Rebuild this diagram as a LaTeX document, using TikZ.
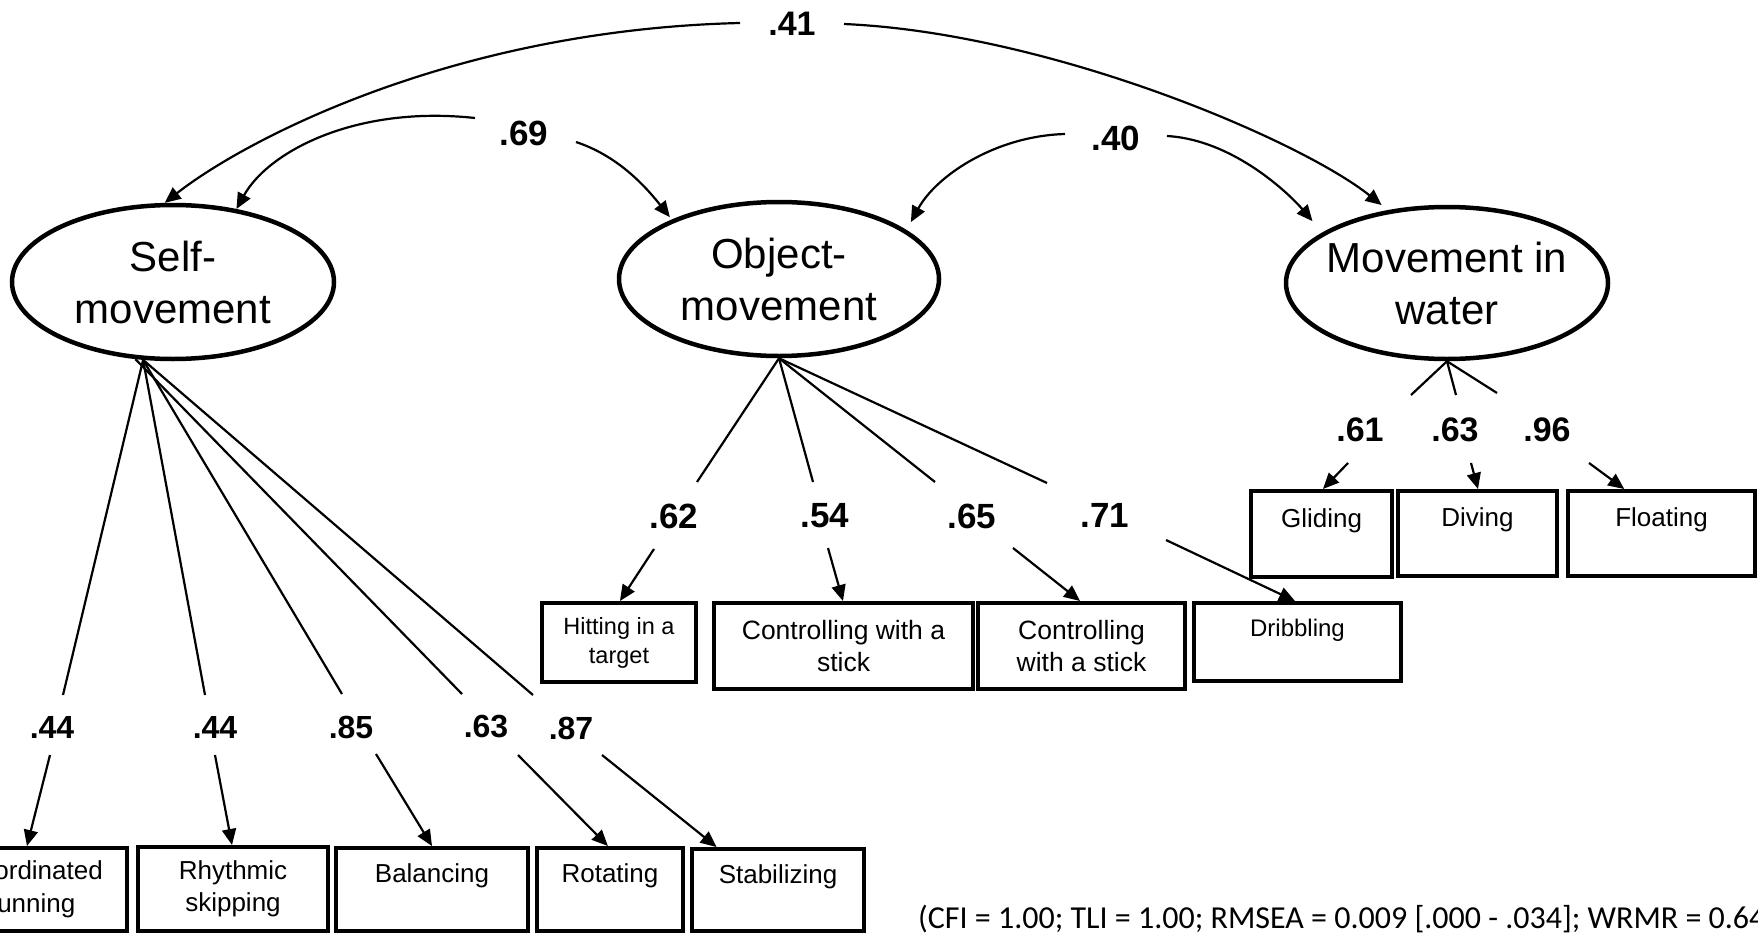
\documentclass[tikz,border=0pt]{standalone}
\usepackage{fontspec}
\setmainfont{Liberation Sans}
\newfontfamily\calibri{Carlito}
\usetikzlibrary{arrows.meta,shapes.geometric,calc}
\begin{document}
\begin{tikzpicture}[x=1pt,y=-1pt,
  latent/.style={ellipse,draw,line width=4.5pt,minimum width=322pt,minimum height=154pt,
    inner xsep=-40pt,inner ysep=0pt,align=center,font=\fontsize{42}{52}\selectfont},
  ind/.style={draw,line width=4pt,inner sep=0pt,align=center,font=\fontsize{26}{32.5}\selectfont},
  coefS/.style={inner sep=0pt,font=\bfseries\fontsize{32}{38}\selectfont},
  coef/.style={inner sep=0pt,font=\bfseries\fontsize{34}{40}\selectfont},
  coefL/.style={inner sep=0pt,font=\bfseries\fontsize{35}{41}\selectfont},
  ldline/.style={line width=2.2pt},
  arr/.style={line width=2.2pt,-{Triangle[length=16pt,width=14pt]}},
]
\useasboundingbox (0,0) rectangle (1758,934);
\clip (0,0) rectangle (1758,934);

% latent factors
\node[latent] (self) at (173,282) {Self-\\movement};
\node[latent,minimum width=320pt] (obj) at (779,279) {Object-\\movement};
\node[latent,minimum width=322pt,minimum height=152pt] (water) at (1447,283) {Movement in\\water};

% indicator boxes
\node[ind,minimum width=190pt,minimum height=83pt] (bcr) at (32,889.5) {Coordinated\\running};
\node[ind,minimum width=190pt,minimum height=84pt] (brs) at (233,889) {Rhythmic\\skipping};
\node[ind,minimum width=192pt,minimum height=83pt] (bbal) at (432,889.5) {Balancing\\\mbox{}};
\node[ind,minimum width=146pt,minimum height=83pt] (brot) at (610,889.5) {Rotating\\\mbox{}};
\node[ind,minimum width=172pt,minimum height=82pt] (bstab) at (778,890) {Stabilizing\\\mbox{}};

\node[ind,minimum width=154pt,minimum height=79pt,font=\fontsize{23.5}{29}\selectfont] (bhit) at (619,642.5) {Hitting in a\\target};
\node[ind,minimum width=259pt,minimum height=86pt,font=\fontsize{26.5}{32}\selectfont] (bcs1) at (843.5,646) {Controlling with a\\stick};
\node[ind,minimum width=207pt,minimum height=86pt,font=\fontsize{26.5}{32}\selectfont] (bcs2) at (1081.5,646) {Controlling\\with a stick};
\node[ind,minimum width=207pt,minimum height=78pt,font=\fontsize{24}{29}\selectfont] (bdrib) at (1297.5,642) {Dribbling\\\mbox{}};

\node[ind,minimum width=141pt,minimum height=86pt] (bglid) at (1321.5,534) {Gliding\\\mbox{}};
\node[ind,minimum width=159pt,minimum height=85pt] (bdiv) at (1477.5,533.5) {Diving\\\mbox{}};
\node[ind,minimum width=187pt,minimum height=85pt] (bfloat) at (1661.5,533.5) {Floating\\\mbox{}};

% coefficient labels
\node[coefS] (l44a) at (52,727) {.44};
\node[coefS] (l44b) at (215,727) {.44};
\node[coefS] (l85) at (351,727) {.85};
\node[coefS] (l63s) at (486,726) {.63};
\node[coefS] (l87) at (571,728) {.87};
\node[coefL] (l62) at (674,516) {.62};
\node[coefL] (l54) at (825,516) {.54};
\node[coefL] (l65) at (972,516) {.65};
\node[coefL] (l71) at (1105,515) {.71};
\node[coef] (l61) at (1360,430) {.61};
\node[coef] (l63w) at (1455,430) {.63};
\node[coef] (l96) at (1547,430) {.96};
\node[coef] (l41) at (792,24) {.41};
\node[coefL] (l69) at (524,133) {.69};
\node[coefL] (l40) at (1116,138) {.40};

% free ends of the loading lines and arrows
\coordinate (e44a) at (63,695);   \coordinate (s44a) at (50,755);
\coordinate (e44b) at (205,695);  \coordinate (s44b) at (215,755);
\coordinate (e85) at (342,694);   \coordinate (s85) at (376,754);
\coordinate (e63s) at (462,694);  \coordinate (s63s) at (518,755);
\coordinate (e87) at (533,695);   \coordinate (s87) at (602,755);
\coordinate (e62) at (697,482);   \coordinate (s62) at (654,549);
\coordinate (e54) at (813,482);   \coordinate (s54) at (828,548);
\coordinate (e65) at (935,482);   \coordinate (s65) at (1013,548);
\coordinate (e71) at (1047,483);  \coordinate (s71) at (1166,540);
\coordinate (e61) at (1411,395);  \coordinate (s61) at (1348,463);
\coordinate (e63w) at (1456,395); \coordinate (s63w) at (1471,463);
\coordinate (e96) at (1497,393);  \coordinate (s96) at (1589,463);
\coordinate (c41l) at (740,23);   \coordinate (c41r) at (844,24);
\coordinate (c69l) at (475,118);  \coordinate (c69r) at (576,142);
\coordinate (c40l) at (1065,134); \coordinate (c40r) at (1167,136);

% self-movement loadings
\draw[ldline] (self.249) -- (e44a);
\draw[ldline] (self.249) -- (e44b);
\draw[ldline] (self.249) -- (e85);
\draw[ldline] (self.244) -- (e63s);
\draw[ldline] (self.249) -- (e87);
\draw[arr] (s44a) -- ($(bcr.north west)!0.474!(bcr.north east)$);
\draw[arr] (s44b) -- ($(brs.north west)!0.495!(brs.north east)$);
\draw[arr] (s85) -- ($(bbal.north west)!0.5!(bbal.north east)$);
\draw[arr] (s63s) -- ($(brot.north west)!0.486!(brot.north east)$);
\draw[arr] (s87) -- ($(bstab.north west)!0.151!(bstab.north east)$);

% object-movement loadings
\draw[ldline] (obj.south) -- (e62);
\draw[ldline] (obj.south) -- (e54);
\draw[ldline] (obj.south) -- (e65);
\draw[ldline] (obj.south) -- (e71);
\draw[arr] (s62) -- ($(bhit.north west)!0.506!(bhit.north east)$);
\draw[arr] (s54) -- ($(bcs1.north west)!0.498!(bcs1.north east)$);
\draw[arr] (s65) -- ($(bcs2.north west)!0.493!(bcs2.north east)$);
\draw[arr] (s71) -- ($(bdrib.north west)!0.488!(bdrib.north east)$);

% movement in water loadings
\draw[ldline] (water.south) -- (e61);
\draw[ldline] (water.south) -- (e63w);
\draw[ldline] (water.south) -- (e96);
\draw[arr] (s61) -- ($(bglid.north west)!0.51!(bglid.north east)$);
\draw[arr] (s63w) -- ($(bdiv.north west)!0.503!(bdiv.north east)$);
\draw[arr] (s96) -- ($(bfloat.north west)!0.305!(bfloat.north east)$);

% correlations
\draw[arr] (c41l) .. controls (450,30) and (242,142) .. (self.96.5);
\draw[arr,shorten >=8pt] (c41r) .. controls (1050,33) and (1300,140) .. (water.129.5);
\draw[arr] (c69l) .. controls (355,105) and (268,152) .. (self.49.5);
\draw[arr,shorten >=3pt] (c69r) .. controls (615,155) and (642,182) .. (obj.151.7);
\draw[arr,shorten >=9pt] (c40l) .. controls (995,136) and (936,176) .. (obj.21);
\draw[arr,shorten >=15pt] (c40r) .. controls (1235,140) and (1291.5,196.4) .. (water.158.5);

% fit indices
\node[anchor=base west,inner sep=0pt,font=\calibri\fontsize{32}{38}\selectfont] (fit) at (918,928)
  {(CFI = 1.00; TLI = 1.00; RMSEA = 0.009 [.000 - .034]; WRMR = 0.64};
\end{tikzpicture}
\end{document}
